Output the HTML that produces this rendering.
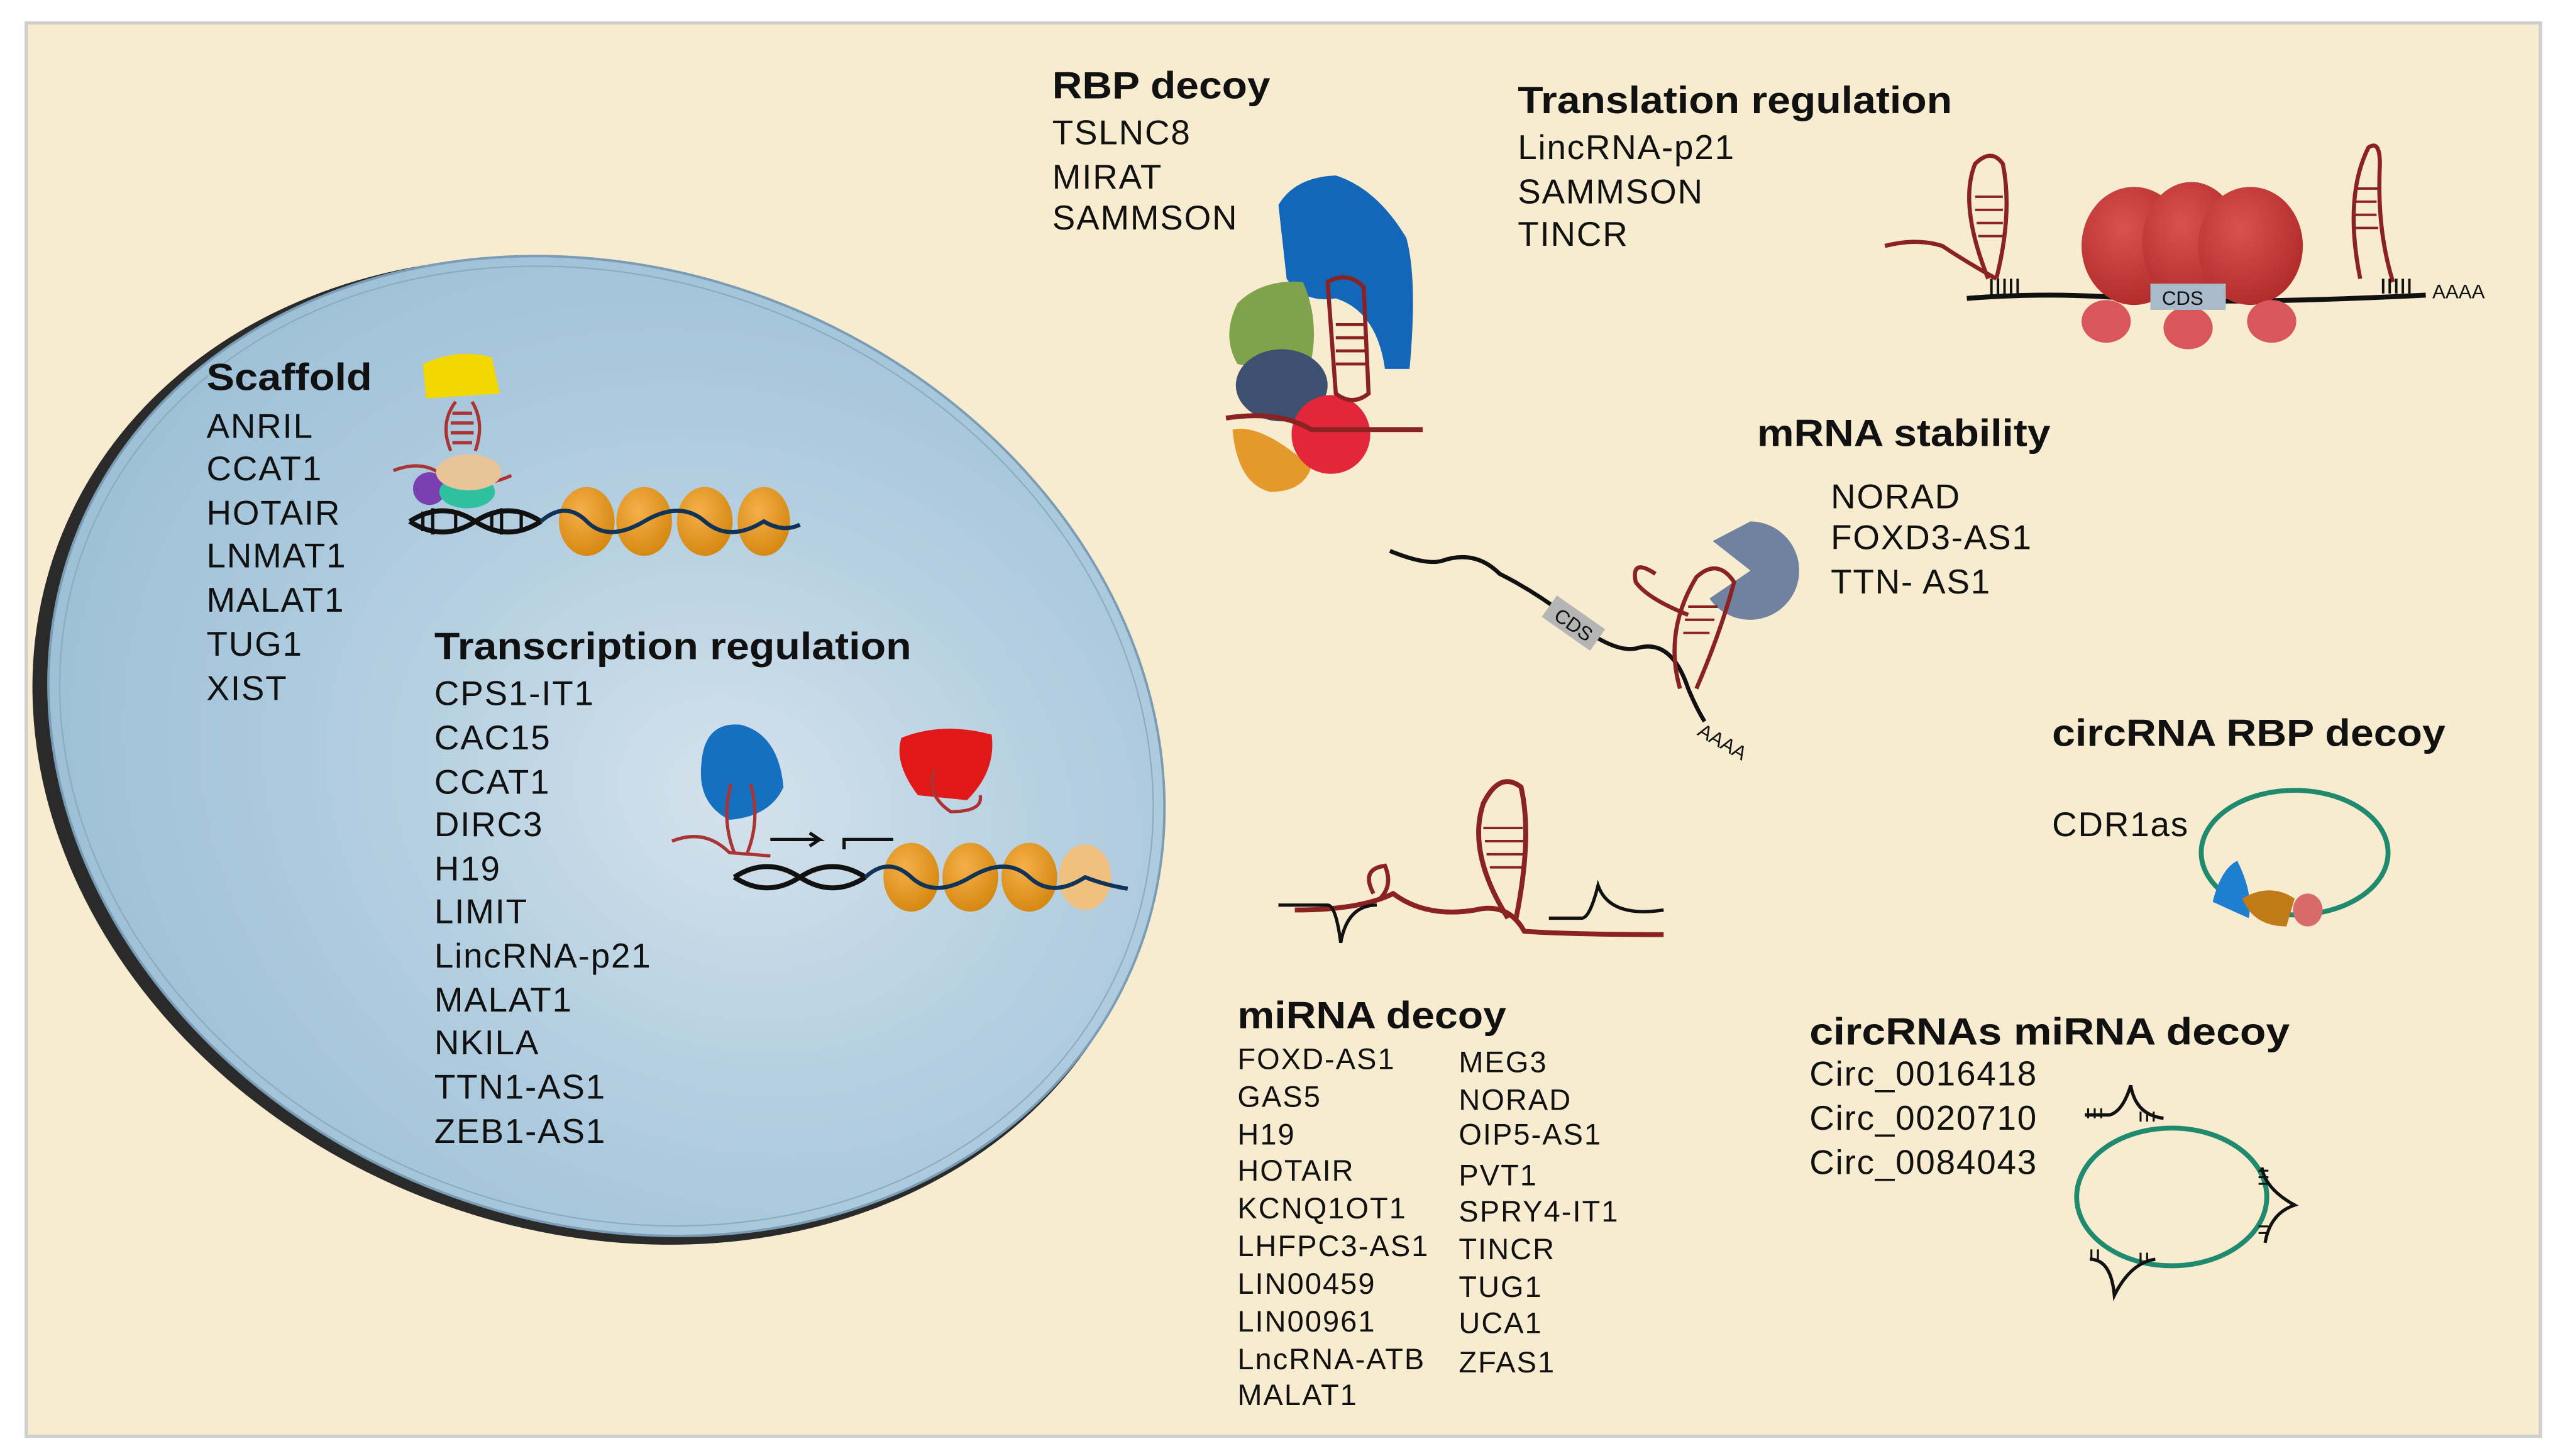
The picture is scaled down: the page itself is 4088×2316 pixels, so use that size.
<!DOCTYPE html>
<html><head><meta charset="utf-8"><style>
html,body{margin:0;padding:0;background:#fff;}
svg{display:block;}
text{font-family:"Liberation Sans",Arial,sans-serif;fill:#111;}
.h{font-weight:bold;font-size:23px;}
.t{font-size:21px;letter-spacing:0.7px;}
.s{font-size:18px;letter-spacing:0.8px;}
</style></head><body>
<svg width="4088" height="2316" viewBox="0 0 1568 888" preserveAspectRatio="none" xmlns="http://www.w3.org/2000/svg">
<defs>
<radialGradient id="eg" cx="0.62" cy="0.5" r="0.6">
<stop offset="0" stop-color="#d4e2ec"/><stop offset="0.5" stop-color="#b4cfe0"/><stop offset="1" stop-color="#9fc1d8"/>
</radialGradient>
<radialGradient id="nu" cx="0.4" cy="0.35" r="0.7"><stop offset="0" stop-color="#f5b04a"/><stop offset="1" stop-color="#d4860e"/></radialGradient>
<radialGradient id="rb" cx="0.4" cy="0.35" r="0.7"><stop offset="0" stop-color="#d9524f"/><stop offset="1" stop-color="#b02a2a"/></radialGradient>
</defs>
<rect x="0" y="0" width="1568" height="888" fill="#fff"/>
<rect x="16" y="14" width="1534" height="862" fill="#f7ebd0" stroke="#cfcfcf" stroke-width="2"/>
<ellipse cx="364" cy="458" rx="352" ry="292" transform="rotate(22 364 458)" fill="#2a2a2a"/>
<ellipse cx="370" cy="455" rx="348" ry="290" transform="rotate(22 370 455)" fill="url(#eg)" stroke="#7a9cb4" stroke-width="1.5"/>
<ellipse cx="370" cy="455" rx="341" ry="284" transform="rotate(22 370 455)" fill="none" stroke="#8aaac0" stroke-width="0.8"/>

<text class="h" x="126" y="238" textLength="101" lengthAdjust="spacingAndGlyphs">Scaffold</text>
<text class="t" x="126" y="267">ANRIL</text><text class="t" x="126" y="293">CCAT1</text><text class="t" x="126" y="320">HOTAIR</text><text class="t" x="126" y="346">LNMAT1</text><text class="t" x="126" y="373">MALAT1</text><text class="t" x="126" y="400">TUG1</text><text class="t" x="126" y="427">XIST</text>
<path d="M258 222 Q280 212 300 218 L305 240 L260 243 Z" fill="#f2d700"/>
<path d="M278 245 Q268 258 275 275 M288 245 Q296 258 290 275 M276 252h12 M275 258h14 M275 264h14 M276 270h12" stroke="#a33" stroke-width="2" fill="none"/>
<path d="M240 287 Q258 280 270 290 Q290 300 312 290" stroke="#a33" stroke-width="2" fill="none"/>
<ellipse cx="262" cy="298" rx="10" ry="10" fill="#7a3fb0"/>
<ellipse cx="285" cy="300" rx="17" ry="10" fill="#2fc0a0"/>
<ellipse cx="286" cy="288" rx="20" ry="11" fill="#e8c49a"/>
<path d="M250 318 Q270 305 290 318 T330 318 M250 318 Q270 331 290 318 T330 318" stroke="#111" stroke-width="3" fill="none"/>
<g stroke="#111" stroke-width="2"><path d="M258 312v12M264 310v16M278 312v12M300 312v12M306 310v16M318 312v12"/></g>
<g fill="url(#nu)"><ellipse cx="358" cy="318" rx="17" ry="21"/><ellipse cx="393" cy="318" rx="17" ry="21"/><ellipse cx="430" cy="318" rx="17" ry="21"/><ellipse cx="466" cy="318" rx="16" ry="21"/></g>
<path d="M330 318 Q345 305 358 318 T393 318 T430 318 T466 318 Q478 325 488 320" stroke="#135" stroke-width="2.5" fill="none"/>

<text class="h" x="265" y="402" textLength="291" lengthAdjust="spacingAndGlyphs">Transcription regulation</text>
<text class="t" x="265" y="430">CPS1-IT1</text><text class="t" x="265" y="457">CAC15</text><text class="t" x="265" y="484">CCAT1</text><text class="t" x="265" y="510">DIRC3</text><text class="t" x="265" y="537">H19</text><text class="t" x="265" y="563">LIMIT</text><text class="t" x="265" y="590">LincRNA-p21</text><text class="t" x="265" y="617">MALAT1</text><text class="t" x="265" y="643">NKILA</text><text class="t" x="265" y="670">TTN1-AS1</text><text class="t" x="265" y="697">ZEB1-AS1</text>
<path d="M428 465 Q430 440 452 442 Q475 448 478 480 Q470 498 445 500 Q425 490 428 465Z" fill="#1670c0"/>
<path d="M446 478 Q440 500 448 520 M458 478 Q464 500 456 520" stroke="#a33" stroke-width="2" fill="none"/>
<path d="M410 513 Q430 505 445 520 L470 522" stroke="#a33" stroke-width="2" fill="none"/>
<path d="M550 450 Q575 440 605 448 Q608 470 590 488 L560 485 Q545 465 550 450Z" fill="#e01818"/>
<path d="M570 470 Q565 485 580 495 Q600 495 598 485" stroke="#a33" stroke-width="2" fill="none"/>
<path d="M470 512 h30 l-6 -4 M500 512 l-6 4" stroke="#111" stroke-width="2" fill="none"/>
<path d="M515 518 v-6 h30" stroke="#111" stroke-width="2" fill="none"/>
<path d="M448 535 Q468 522 488 535 T528 535 M448 535 Q468 548 488 535 T528 535" stroke="#111" stroke-width="3" fill="none"/>
<g fill="url(#nu)"><ellipse cx="556" cy="535" rx="17" ry="21"/><ellipse cx="592" cy="535" rx="17" ry="21"/><ellipse cx="628" cy="535" rx="17" ry="21"/><ellipse cx="662" cy="535" rx="16" ry="20" fill="#f0c080"/></g>
<path d="M528 535 Q542 522 556 535 T592 535 T628 535 T662 535 Q675 540 688 542" stroke="#135" stroke-width="2.5" fill="none"/>

<text class="h" x="642" y="60" textLength="133" lengthAdjust="spacingAndGlyphs">RBP decoy</text>
<text class="t" x="642" y="88">TSLNC8</text><text class="t" x="642" y="115">MIRAT</text><text class="t" x="642" y="140">SAMMSON</text>
<path d="M780 125 Q790 108 815 107 Q840 115 858 145 Q865 170 860 225 L845 225 Q840 190 815 182 Q795 185 785 170 Z" fill="#1466b8"/>
<path d="M755 185 Q770 170 795 172 Q805 195 800 220 Q780 228 755 222 Q745 205 755 185Z" fill="#7fa34a"/>
<ellipse cx="782" cy="235" rx="28" ry="22" fill="#3d5070"/>
<path d="M752 262 Q770 258 800 285 Q795 300 775 300 Q755 295 752 262Z" fill="#e39a2a"/>
<circle cx="812" cy="265" r="24" fill="#e2273b"/>
<path d="M810 172 Q822 165 832 175 L835 240 Q825 248 815 240 Z" stroke="#8b2222" stroke-width="2.5" fill="none"/>
<g stroke="#8b2222" stroke-width="1.8"><path d="M815 198h18M815 206h18M815 214h18M815 222h18"/></g>
<path d="M748 255 Q780 250 800 262 Q830 262 868 262" stroke="#8b2222" stroke-width="3" fill="none"/>

<text class="h" x="926" y="69" textLength="265" lengthAdjust="spacingAndGlyphs">Translation regulation</text>
<text class="t" x="926" y="97">LincRNA-p21</text><text class="t" x="926" y="124">SAMMSON</text><text class="t" x="926" y="150">TINCR</text>
<path d="M1200 182 Q1250 178 1300 182 Q1360 186 1480 180" stroke="#111" stroke-width="3" fill="none"/>
<g fill="url(#rb)"><ellipse cx="1302" cy="150" rx="32" ry="36"/><ellipse cx="1337" cy="148" rx="30" ry="37"/><ellipse cx="1373" cy="150" rx="32" ry="36"/></g>
<g fill="#d9565a"><ellipse cx="1285" cy="196" rx="15" ry="13"/><ellipse cx="1335" cy="200" rx="15" ry="13"/><ellipse cx="1386" cy="196" rx="15" ry="13"/></g>
<rect x="1312" y="173" width="46" height="16" fill="#a9bacb"/>
<text x="1319" y="186" style="font-size:12px">CDS</text>
<path d="M1150 150 Q1170 145 1185 150 Q1200 160 1218 170" stroke="#8b2222" stroke-width="2.5" fill="none"/>
<path d="M1213 170 Q1195 125 1205 100 Q1215 90 1222 100 Q1228 130 1218 170" stroke="#8b2222" stroke-width="2.5" fill="none"/>
<g stroke="#8b2222" stroke-width="1.5"><path d="M1205 120h17M1205 128h17M1206 136h16M1207 144h15"/></g>
<path d="M1440 170 Q1430 120 1445 90 Q1452 85 1452 100 Q1450 140 1460 172" stroke="#8b2222" stroke-width="2.5" fill="none"/>
<g stroke="#8b2222" stroke-width="1.5"><path d="M1437 115h14M1436 123h14M1436 131h14M1437 139h14"/></g>
<g stroke="#111" stroke-width="1.5"><path d="M1215 170v10M1219 170v10M1223 170v10M1227 170v10M1231 170v10M1454 170v9M1458 170v9M1462 170v9M1466 170v9M1470 170v9"/></g>
<text x="1484" y="182" style="font-size:12px">AAAA</text>

<text class="h" x="1072" y="272" textLength="179" lengthAdjust="spacingAndGlyphs">mRNA stability</text>
<text class="t" x="1117" y="310">NORAD</text><text class="t" x="1117" y="335">FOXD3-AS1</text><text class="t" x="1117" y="362">TTN- AS1</text>
<path d="M848 336 Q870 345 880 342 Q900 335 915 350 Q935 360 955 375 Q985 400 1000 395 Q1020 390 1030 420 Q1035 432 1040 440" stroke="#111" stroke-width="2.5" fill="none"/>
<rect x="942" y="372" width="36" height="16" fill="#b5b5b5" transform="rotate(35 960 380)"/>
<text x="948" y="385" transform="rotate(35 960 380)" style="font-size:12px">CDS</text>
<path d="M1068 318 A30 30 0 1 1 1043 365 L1068 348 L1045 330 Z" fill="#6f83a0"/>
<path d="M1025 420 Q1015 385 1035 352 Q1048 340 1058 355 Q1050 385 1035 420 M1030 375 Q1005 365 998 355 Q995 340 1010 350" stroke="#8b2222" stroke-width="2.5" fill="none"/>
<g stroke="#8b2222" stroke-width="1.5"><path d="M1030 370h18M1028 378h18M1027 386h16"/></g>
<text x="1035" y="448" transform="rotate(30 1035 448)" style="font-size:12px">AAAA</text>

<path d="M790 555 Q830 555 850 545 Q870 560 900 555 Q920 550 930 568 Q960 570 1015 570" stroke="#8b2222" stroke-width="3" fill="none"/>
<path d="M920 560 Q895 520 905 490 Q915 470 928 480 Q935 510 925 560" stroke="#8b2222" stroke-width="3" fill="none"/>
<g stroke="#8b2222" stroke-width="1.5"><path d="M905 505h24M906 513h24M907 521h22M909 529h20"/></g>
<path d="M838 545 Q830 530 845 528 Q850 540 842 548" stroke="#8b2222" stroke-width="2.5" fill="none"/>
<path d="M780 552 h30 Q815 552 818 575 Q822 552 840 552 M945 560 h20 Q970 560 975 540 Q982 560 1015 555" stroke="#111" stroke-width="2" fill="none"/>

<text class="h" x="755" y="627" textLength="164" lengthAdjust="spacingAndGlyphs">miRNA decoy</text>
<text class="s" x="755" y="652">FOXD-AS1</text><text class="s" x="755" y="675">GAS5</text><text class="s" x="755" y="698">H19</text><text class="s" x="755" y="720">HOTAIR</text><text class="s" x="755" y="743">KCNQ1OT1</text><text class="s" x="755" y="766">LHFPC3-AS1</text><text class="s" x="755" y="789">LIN00459</text><text class="s" x="755" y="812">LIN00961</text><text class="s" x="755" y="835">LncRNA-ATB</text><text class="s" x="755" y="857">MALAT1</text>
<text class="s" x="890" y="654">MEG3</text><text class="s" x="890" y="677">NORAD</text><text class="s" x="890" y="698">OIP5-AS1</text><text class="s" x="890" y="723">PVT1</text><text class="s" x="890" y="745">SPRY4-IT1</text><text class="s" x="890" y="768">TINCR</text><text class="s" x="890" y="791">TUG1</text><text class="s" x="890" y="813">UCA1</text><text class="s" x="890" y="837">ZFAS1</text>

<text class="h" x="1252" y="455" textLength="240" lengthAdjust="spacingAndGlyphs">circRNA RBP decoy</text>
<text class="t" x="1252" y="510">CDR1as</text>
<ellipse cx="1400" cy="520" rx="57" ry="38" fill="none" stroke="#1f8a6e" stroke-width="3"/>
<path d="M1350 550 Q1355 530 1365 525 Q1375 545 1372 560 Z" fill="#1e7fd0"/>
<path d="M1368 548 Q1385 538 1400 548 L1395 565 Q1375 565 1368 548Z" fill="#c07a18"/>
<ellipse cx="1408" cy="555" rx="9" ry="10" fill="#d86a6a"/>

<text class="h" x="1104" y="637" textLength="293" lengthAdjust="spacingAndGlyphs">circRNAs miRNA  decoy</text>
<text class="t" x="1104" y="662">Circ_0016418</text><text class="t" x="1104" y="689">Circ_0020710</text><text class="t" x="1104" y="716">Circ_0084043</text>
<ellipse cx="1325" cy="730" rx="58" ry="42" fill="none" stroke="#1f8a6e" stroke-width="3"/>
<path d="M1272 680 h15 Q1295 678 1300 662 Q1303 680 1320 682 M1380 712 Q1382 725 1400 735 Q1385 740 1382 758 M1275 768 Q1288 768 1290 790 Q1300 770 1315 768" stroke="#111" stroke-width="2" fill="none"/>
<g stroke="#111" stroke-width="1.2"><path d="M1274 676v6M1278 676v6M1282 676v6M1306 678v6M1310 678v6M1314 678v6M1378 714h6M1378 718h6M1378 722h6M1378 748h6M1378 752h6M1276 762v6M1280 762v6M1306 764v6M1310 764v6"/></g>
</svg>
</body></html>
